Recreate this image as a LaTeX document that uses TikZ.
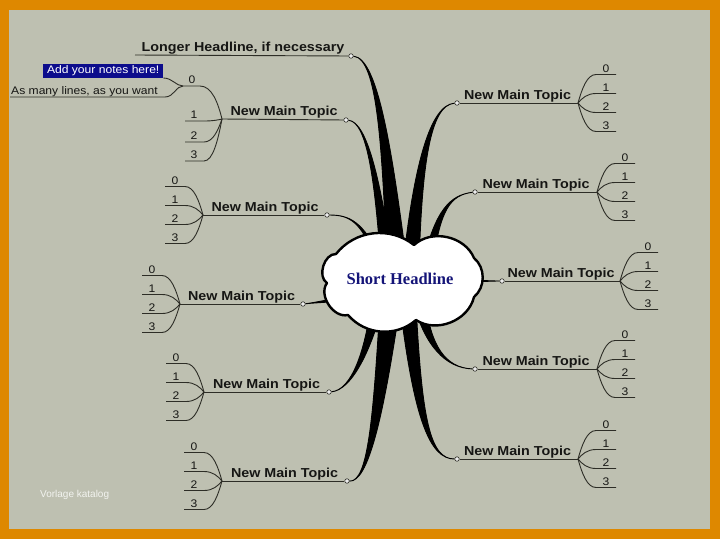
\documentclass[tikz,border=0pt]{standalone}
\usepackage{fontspec}
\setmainfont{Liberation Sans}
\newfontfamily\topicfont[FakeStretch=1.1]{Liberation Sans}
\newfontfamily\headfont{Liberation Serif}
\usetikzlibrary{calc}
\definecolor{framec}{RGB}{222,136,0}
\definecolor{bgc}{RGB}{190,192,177}
\definecolor{linec}{RGB}{45,45,38}
\definecolor{textc}{RGB}{22,22,20}
\definecolor{headc}{RGB}{20,20,120}
\definecolor{notec}{RGB}{12,12,140}
\tikzset{
  uline/.style={draw=linec, line width=0.9pt},
  topic/.style={font={\topicfont\bfseries\fontsize{13}{15}\selectfont}, text=textc, inner sep=0pt, anchor=base},
  sublab/.style={font={\topicfont\fontsize{11}{13}\selectfont}, text=textc, inner sep=0pt, anchor=base},
  notetext/.style={font={\topicfont\fontsize{11}{13}\selectfont}, inner sep=0pt},
  dotnode/.style={circle, draw=linec, fill=white!85!gray, inner sep=0pt, minimum size=4.5pt, line width=0.6pt},
  branch/.style={fill=black, draw=black, line width=0.9pt, line join=round},
  cloudline/.style={draw=black, fill=white, line width=2.4pt, line join=round},
}
\newcommand{\mmtopic}[5]{%
  \coordinate (#1f) at (#2,#4);
  \node[dotnode] (#1d) at (#3,#4) {};
  \draw[uline] (#1f) -- (#1d);
  \node[topic] (#1t) at ({(#2+#3)/2},{#4-4}) {New Main Topic};
  \foreach \i/\dy in {0/-28.5,1/-9.5,2/9.5,3/28.5}{
    \coordinate (#1a\i) at ({#2+#5*18},{#4+\dy});
    \coordinate (#1b\i) at ({#2+#5*38},{#4+\dy});
    \draw[uline] (#1b\i) -- (#1a\i) .. controls +({#5*(-9)},0) and +({#5*4},{0.5*\dy}) .. (#1f);
    \node[sublab] (#1l\i) at ({#2+#5*28},{#4+\dy-2.5}) {\i};
  }
}
\newcommand{\mmbranch}[5]{%
  \filldraw[branch] (#1) .. controls #2 and ($#3+0.5*#5$) .. ($#4+#5$) -- ($#4-#5$) .. controls ($#3-0.5*#5$) and #2 .. (#1);
}
\begin{document}
\begin{tikzpicture}[x=1pt,y=-1pt]
\useasboundingbox (0,0) rectangle (720,539);
\fill[framec] (0,0) rectangle (720,539);
\fill[bgc] (9,10) rectangle (710,529);

% Longer headline
\node[dotnode] (L0d) at (351,56) {};
\coordinate (L0e) at (135,55);
\draw[uline] (L0e) -- (L0d);
\node[topic] (L0t) at (243,51) {Longer Headline, if necessary};

% Top-left topic with notes
\coordinate (L1f) at (222,119);
\node[dotnode] (L1d) at (346,120) {};
\draw[uline] (L1f) -- (L1d);
\node[topic] (L1t) at (284,115) {New Main Topic};
\coordinate (L1b0) at (183,86); \coordinate (L1a0) at (200,86);
\draw[uline] (L1b0) -- (L1a0) .. controls +(12,0) and +(-4,-16) .. (L1f);
\node[sublab] (L1l0) at (192,83) {0};
\foreach \i/\yy in {1/121,2/142,3/161}{
  \coordinate (L1b\i) at (185,\yy);
  \coordinate (L1a\i) at (204,\yy);
  \draw[uline] (L1b\i) -- (L1a\i) .. controls +(9,0) and +(-4,{0.5*(\yy-119)}) .. (L1f);
  \node[sublab] (L1l\i) at (194,{\yy-2.5}) {\i};
}
% notes
\node[notetext, fill=notec, text=white, minimum width=120pt, minimum height=14pt, anchor=south west] (note1) at (43,78) {Add your notes here!};
\node[notetext, text=textc, anchor=base west] (note2) at (11,94) {As many lines, as you want};
\coordinate (n2a) at (10,97); \coordinate (n2b) at (165,97);
\draw[uline] (n2a) -- (n2b) .. controls +(9,0) and +(-7,0) .. (L1b0);
\draw[uline] (note1.south east) .. controls +(9,0) and +(-7,0) .. (L1b0);

% other topics
\mmtopic{L2}{203}{327}{215}{-1}
\mmtopic{L3}{180}{303}{304}{-1}
\mmtopic{L4}{204}{329}{392}{-1}
\mmtopic{L5}{222}{347}{481}{-1}
\mmtopic{R1}{578}{457}{103}{1}
\mmtopic{R2}{597}{475}{192}{1}
\mmtopic{R3}{620}{502}{281}{1}
\mmtopic{R4}{597}{475}{369}{1}
\mmtopic{R5}{578}{457}{459}{1}

% branches
\mmbranch{L0d}{(378,58)}{(387,150)}{(397,265)}{(10,0)}
\mmbranch{L1d}{(368,122)}{(378,185)}{(387,265)}{(6,0)}
\mmbranch{L2d}{(350,215)}{(362,222)}{(378,258)}{(2.5,0)}
\mmbranch{L3d}{(312,303)}{(320,302)}{(335,300)}{(0,1.5)}
\mmbranch{L4d}{(352,390)}{(368,350)}{(377,305)}{(6,0)}
\mmbranch{L5d}{(368,482)}{(378,420)}{(390,305)}{(10,0)}
\mmbranch{R1d}{(430,105)}{(418,165)}{(411,265)}{(8,0)}
\mmbranch{R2d}{(450,195)}{(438,210)}{(428,262)}{(5,0)}
\mmbranch{R3d}{(490,281)}{(480,281)}{(465,281)}{(0,1.5)}
\mmbranch{R4d}{(445,368)}{(428,345)}{(420,305)}{(6,0)}
\mmbranch{R5d}{(430,459)}{(418,420)}{(408,305)}{(8,0)}

% central cloud
\coordinate (cA) at (336,254);
\coordinate (cB) at (414,245);
\coordinate (cC) at (474,258);
\coordinate (cD) at (474,297);
\coordinate (cE) at (416,320);
\coordinate (cF) at (348,315);
\coordinate (cG) at (327,283);
\path[cloudline] (cA) to[bend left=45] (cB) to[bend left=55] (cC) to[bend left=50] (cD)
  to[bend left=55] (cE) to[bend left=45] (cF) to[bend left=70] (cG) to[bend left=75] cycle;
\node[font={\headfont\bfseries\fontsize{16.5}{18}\selectfont}, text=headc, inner sep=0pt] (center) at (400,279) {Short Headline};

% watermark
\node[font={\fontsize{10}{12}\selectfont}, text=white!80!bgc, anchor=base west, inner sep=0pt] (wm) at (40,497) {Vorlage katalog};
\end{tikzpicture}
\end{document}
